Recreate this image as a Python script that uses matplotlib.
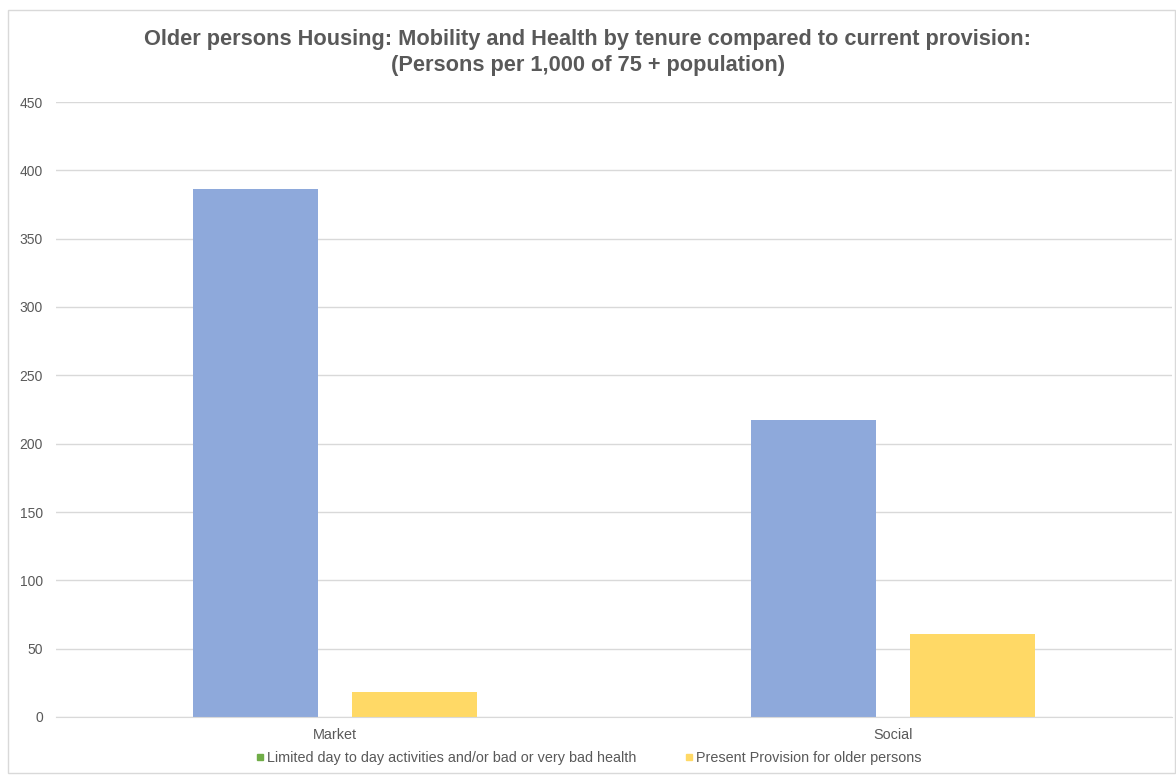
import matplotlib
matplotlib.use("Agg")
import matplotlib.pyplot as plt
from matplotlib.patches import Rectangle
from matplotlib.lines import Line2D

# Data
categories = ["Market", "Social"]
limited_health = [386, 217]
present_provision = [18, 61]
series_names = ["Limited day to day activities and/or bad or very bad health",
                "Present Provision for older persons"]
y_ticks = [0, 50, 100, 150, 200, 250, 300, 350, 400, 450]

plt.rcParams["font.family"] = ["Liberation Sans", "DejaVu Sans"]

fig = plt.figure(figsize=(11.76, 7.75), dpi=100)
ax = fig.add_axes([56 / 1176, 1 - 717 / 775, (1172 - 56) / 1176, (717 - 102) / 775])

blue = "#8EA9DB"
yellow = "#FFD966"
text_col = "#595959"

width = 0.224
offset = width / 2 + 0.0305
x = list(range(len(categories)))
ax.bar([i - offset for i in x], limited_health, width=width, color=blue, zorder=3)
ax.bar([i + offset for i in x], present_provision, width=width, color=yellow, zorder=3)

ax.set_xlim(-0.5, 1.5)
ax.set_ylim(0, 450)
ax.set_yticks(y_ticks)
ax.set_yticklabels([str(v) for v in y_ticks], color=text_col, fontsize=10)
ax.set_xticks(x)
ax.set_xticklabels(categories, color=text_col, fontsize=10.4)
ax.tick_params(axis="both", length=0)
ax.tick_params(axis="y", pad=9.5)
ax.tick_params(axis="x", pad=8)
ax.yaxis.grid(True, color="#D9D9D9", linewidth=1, zorder=0)
for side in ["top", "right", "left"]:
    ax.spines[side].set_visible(False)
ax.spines["bottom"].set_color("#D9D9D9")
ax.spines["bottom"].set_zorder(4)

fig.text(0.5, 1 - 39 / 775, "Older persons Housing: Mobility and Health by tenure compared to current provision:",
         ha="center", va="center", fontsize=15.7, fontweight="bold", color=text_col)
fig.text(0.5, 1 - 65 / 775, "(Persons per 1,000 of 75 + population)",
         ha="center", va="center", fontsize=15.7, fontweight="bold", color=text_col)

handles = [Line2D([], [], marker="s", linestyle="none", markersize=5, color="#70AD47"),
           Line2D([], [], marker="s", linestyle="none", markersize=5, color=yellow)]
fig.legend(handles, series_names, loc="center", bbox_to_anchor=(0.5, 1 - 758 / 775),
           ncol=2, frameon=False, fontsize=10.4, labelcolor=text_col,
           handletextpad=0.1, columnspacing=3.2, handlelength=0.8)

# Chart frame
fig.patches.append(Rectangle((8 / 1176, 0.002), 1 - 9 / 1176, 1 - 10 / 775 - 0.002,
                             transform=fig.transFigure, fill=False,
                             edgecolor="#D9D9D9", linewidth=1))

fig.savefig("out.png", dpi=100)
